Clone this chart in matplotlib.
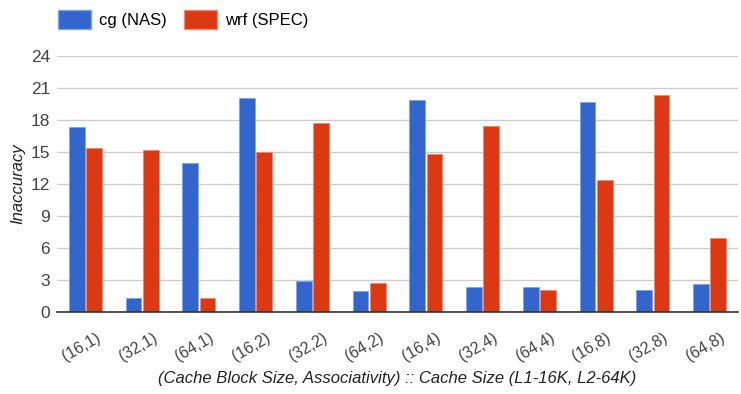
import matplotlib
matplotlib.use("Agg")
import matplotlib.pyplot as plt
import matplotlib.transforms as mtransforms
import numpy as np
from matplotlib.patches import Patch

plt.rcParams['font.family'] = ['Liberation Sans', 'DejaVu Sans']

categories = ["(16,1)", "(32,1)", "(64,1)", "(16,2)", "(32,2)", "(64,2)",
              "(16,4)", "(32,4)", "(64,4)", "(16,8)", "(32,8)", "(64,8)"]
cg_nas = [17.3, 1.3, 14.0, 20.1, 2.9, 2.0, 19.9, 2.3, 2.3, 19.7, 2.1, 2.6]
wrf_spec = [15.4, 15.2, 1.3, 15.0, 17.7, 2.7, 14.8, 17.4, 2.1, 12.4, 20.3, 6.9]
y_ticks = [0, 3, 6, 9, 12, 15, 18, 21, 24]

blue = "#3366cc"
red = "#dc3912"

fig = plt.figure(figsize=(7.41, 3.94), dpi=100)
ax = fig.add_axes([57 / 741, 1 - 312 / 394, 681 / 741, 256 / 394])

x = np.arange(len(categories))
w = 0.28
ax.bar(x - w / 2 - 0.012, cg_nas, width=w, color=blue, edgecolor="#7fa3e6", linewidth=0.6, zorder=3)
ax.bar(x + w / 2 + 0.012, wrf_spec, width=w, color=red, edgecolor="#ef8a70", linewidth=0.6, zorder=3)

ax.set_xlim(-0.5, len(categories) - 0.5)
ax.set_ylim(0, 24)
ax.set_yticks(y_ticks)
ax.set_yticklabels([str(t) for t in y_ticks], fontsize=12.5, color="#444444")
ax.yaxis.grid(True, color="#cccccc", linewidth=1, zorder=0)
ax.tick_params(axis="y", length=0, pad=5)

ax.set_xticks(x)
ax.set_xticklabels(categories, rotation=30, ha="right", rotation_mode="anchor",
                   fontsize=11.5, color="#444444")
ax.tick_params(axis="x", length=0, pad=13)
shift = mtransforms.ScaledTranslation(10 / 100, 0, fig.dpi_scale_trans)
for lbl in ax.get_xticklabels():
    lbl.set_transform(lbl.get_transform() + shift)

for s in ["top", "right", "left"]:
    ax.spines[s].set_visible(False)
ax.spines["bottom"].set_color("#333333")
ax.spines["bottom"].set_linewidth(1.2)
ax.spines["bottom"].set_zorder(4)

ax.set_ylabel("Inaccuracy", fontsize=12, style="italic", color="#222222", labelpad=4)
ax.set_xlabel("(Cache Block Size, Associativity) :: Cache Size (L1-16K, L2-64K)",
              fontsize=12, style="italic", color="#222222", labelpad=5)

handles = [Patch(facecolor=blue, edgecolor="#7fa3e6"), Patch(facecolor=red, edgecolor="#ef8a70")]
fig.legend(handles, ["cg (NAS)", "wrf (SPEC)"], loc="upper left",
           bbox_to_anchor=(43 / 741, 1.012), ncol=2, frameon=False,
           fontsize=12, handlelength=2.0, handleheight=1.35,
           columnspacing=1.05, handletextpad=0.45)

fig.savefig("out.png", dpi=100)
